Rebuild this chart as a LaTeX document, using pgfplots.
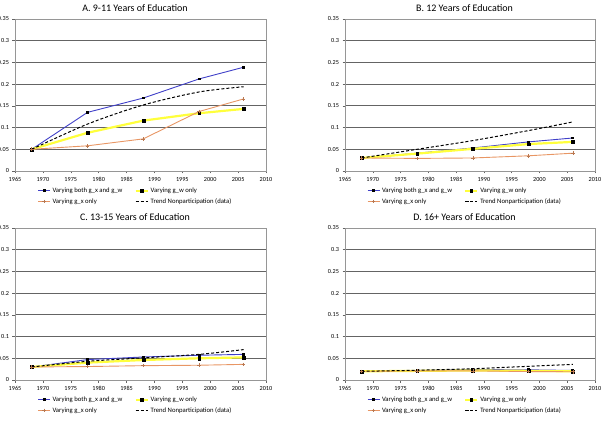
\documentclass[border=0pt]{standalone}
\usepackage{pgfplots}
\usepackage{pgfplotstable}
\pgfplotsset{compat=1.18}
\usepackage{fontspec}
\setmainfont{Carlito}

\definecolor{bothblue}{RGB}{64,64,200}
\definecolor{wyellow}{RGB}{255,255,60}
\definecolor{xorange}{RGB}{232,150,100}
\definecolor{gridgray}{RGB}{100,100,100}
\definecolor{framegray}{RGB}{150,150,150}

% year, both g_x and g_w, g_w only, g_x only, trend (data)
\pgfplotstableread{
year both wonly xonly trend
1968 0.050 0.050 0.050 0.050
1978 0.135 0.088 0.058 0.108
1988 0.168 0.116 0.074 0.152
1998 0.212 0.133 0.137 0.182
2006 0.239 0.143 0.166 0.194
}\tabA
\pgfplotstableread{
year both wonly xonly trend
1968 0.030 0.030 0.030 0.030
1978 0.041 0.040 0.029 0.050
1988 0.053 0.051 0.030 0.070
1998 0.067 0.062 0.035 0.093
2006 0.076 0.067 0.041 0.113
}\tabB
\pgfplotstableread{
year both wonly xonly trend
1968 0.030 0.030 0.030 0.030
1978 0.047 0.040 0.031 0.043
1988 0.053 0.046 0.033 0.051
1998 0.057 0.050 0.034 0.059
2006 0.059 0.052 0.036 0.070
}\tabC
\pgfplotstableread{
year both wonly xonly trend
1968 0.020 0.020 0.020 0.020
1978 0.022 0.021 0.021 0.0225
1988 0.024 0.022 0.021 0.026
1998 0.0235 0.021 0.0195 0.0315
2006 0.022 0.020 0.019 0.036
}\tabD

\pgfplotsset{
  panel/.style={
    scale only axis, width=251pt, height=152pt,
    xmin=1965, xmax=2010, ymin=0, ymax=0.35,
    xtick={1965,1970,...,2010},
    ytick={0,0.05,0.1,0.15,0.2,0.25,0.3,0.35},
    yticklabels={0,0.05,0.1,0.15,0.2,0.25,0.3,0.35},
    /pgf/number format/assume math mode=true,
    x tick label style={/pgf/number format/1000 sep={}},
    ticklabel style={font=\fontsize{6.2}{7}\selectfont},
    ymajorgrids, grid style={gridgray, line width=0.9pt},
    axis line style={framegray, line width=0.6pt},
    tick align=outside, major tick length=2.5pt,
    tick style={gridgray, line width=0.5pt},
    xtick pos=bottom, ytick pos=left,
    title style={at={(0.478,1)}, anchor=south, inner sep=1.5pt,
      font=\fontsize{10}{11}\selectfont},
    legend columns=2,
    legend cell align=left,
    legend style={at={(0.48,-0.095)}, anchor=north, draw=none, fill=none,
      font=\fontsize{6.7}{8}\selectfont, inner sep=0pt, row sep=0.5pt,
      /tikz/every even column/.append style={column sep=10pt}},
    legend image code/.code={%
      \draw[mark repeat=2, mark phase=2] plot coordinates {(0pt,0pt) (6pt,0pt) (12pt,0pt)};},
  },
  sboth/.style={bothblue, line width=0.9pt, mark=square*, mark size=0.9pt,
    mark options={black, solid}},
  swonly/.style={wyellow, line width=2.2pt, mark=square*, mark size=1.4pt,
    mark options={black, solid, line width=0.3pt}},
  sxonly/.style={xorange, line width=0.9pt, mark=+, mark size=1.8pt,
    mark options={xorange!80!black, solid, line width=0.5pt}},
  strend/.style={black, line width=1pt, dash pattern=on 3pt off 2pt,
    smooth, tension=0.5, mark=none},
}

\newcommand{\drawpanel}[1]{%
  \addplot[sboth]  table[x=year, y=both]  {#1};
  \addplot[swonly] table[x=year, y=wonly] {#1};
  \addplot[sxonly] table[x=year, y=xonly] {#1};
  \addplot[strend] table[x=year, y=trend] {#1};
  \legend{Varying both g\_x and g\_w, Varying g\_w only,
    Varying g\_x only, Trend Nonparticipation (data)}%
}

\begin{document}
\begin{tikzpicture}
\useasboundingbox (0,0) rectangle (606pt,421pt);

\begin{axis}[panel, at={(15pt,250pt)}, anchor=south west,
  title={A. 9-11 Years of Education}]
  \drawpanel{\tabA}
\end{axis}

\begin{axis}[panel, at={(345pt,250pt)}, anchor=south west, width=250pt,
  title={B. 12 Years of Education}]
  \drawpanel{\tabB}
\end{axis}

\begin{axis}[panel, at={(15pt,41pt)}, anchor=south west,
  title={C. 13-15 Years of Education}]
  \drawpanel{\tabC}
\end{axis}

\begin{axis}[panel, at={(345pt,41pt)}, anchor=south west, width=250pt,
  title={D. 16+ Years of Education}]
  \drawpanel{\tabD}
\end{axis}
\end{tikzpicture}
\end{document}
